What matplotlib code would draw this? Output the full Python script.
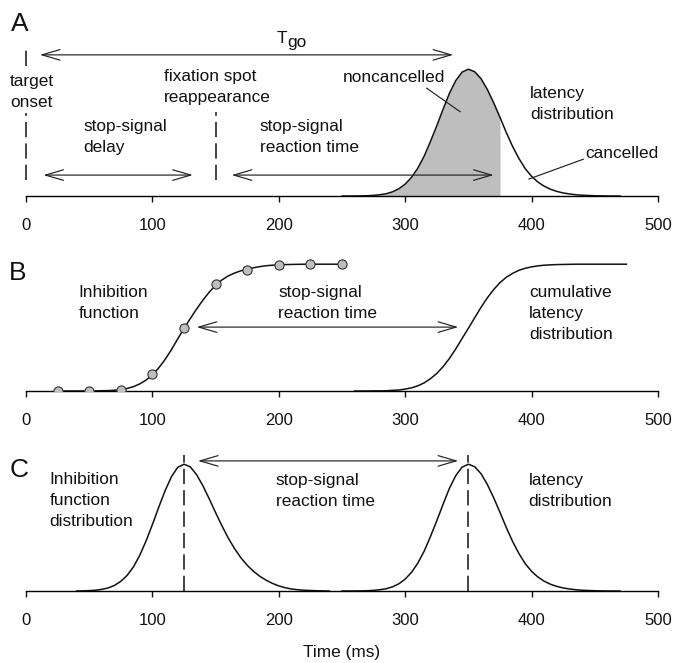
import numpy as np
import matplotlib
matplotlib.use("Agg")
import matplotlib.pyplot as plt

plt.rcParams["font.family"] = ["Liberation Sans", "DejaVu Sans"]

# ── values ───────────────────────────────────────────────────────────────
TICKS = [0, 100, 200, 300, 400, 500]

# go-process latency density (peak normalised to 1)
LAT_MS = [250, 255, 260, 265, 270, 275, 280, 285, 290, 295,
          300, 305, 310, 315, 320, 325, 330, 335, 340, 345,
          350, 355, 360, 365, 370, 375, 380, 385, 390, 395,
          400, 405, 410, 415, 420, 425, 430, 435, 440, 445,
          450, 455, 460, 465, 470]
LAT_DENS = [0.000, 0.000, 0.000, 0.001, 0.002, 0.005, 0.010, 0.018, 0.033, 0.057,
            0.094, 0.147, 0.220, 0.314, 0.430, 0.554, 0.685, 0.810, 0.910, 0.977,
            1.000, 0.980, 0.925, 0.840, 0.735, 0.620, 0.500, 0.390, 0.295, 0.215,
            0.155, 0.110, 0.077, 0.053, 0.036, 0.024, 0.016, 0.010, 0.006, 0.004,
            0.002, 0.001, 0.000, 0.000, 0.000]

# cumulative latency distribution
CUM_MS = [260, 265, 270, 275, 280, 285, 290, 295, 300, 305,
          310, 315, 320, 325, 330, 335, 340, 345, 350, 355,
          360, 365, 370, 375, 380, 385, 390, 395, 400, 405,
          410, 415, 420, 425, 430, 435, 440, 445, 450, 455,
          460, 465, 470, 475]
CUM_P = [0.000, 0.000, 0.000, 0.001, 0.001, 0.002, 0.005, 0.008, 0.015, 0.025,
         0.041, 0.064, 0.097, 0.139, 0.192, 0.257, 0.332, 0.414, 0.495, 0.578,
         0.660, 0.735, 0.800, 0.855, 0.897, 0.928, 0.952, 0.968, 0.979, 0.987,
         0.992, 0.995, 0.997, 0.998, 0.999, 1.000, 1.000, 1.000, 1.000, 1.000,
         1.000, 1.000, 1.000, 1.000]

# inhibition function: observed points + fitted curve
INH_PT_MS = [25, 50, 75, 100, 125, 150, 175, 200, 225, 250]
INH_PT_P = [0.0, 0.0, 0.008, 0.133, 0.496, 0.84, 0.955, 0.995, 1.0, 1.0]
INH_MS = [25, 30, 35, 40, 45, 50, 55, 60, 65, 70,
          75, 80, 85, 90, 95, 100, 105, 110, 115, 120,
          125, 130, 135, 140, 145, 150, 155, 160, 165, 170,
          175, 180, 185, 190, 195, 200, 205, 210, 215, 220,
          225, 230, 235, 240, 245, 250]
INH_P = [0.000, 0.000, 0.000, 0.000, 0.000, 0.000, 0.001, 0.002, 0.003, 0.006,
         0.012, 0.020, 0.034, 0.056, 0.086, 0.128, 0.182, 0.248, 0.325, 0.410,
         0.493, 0.572, 0.647, 0.717, 0.780, 0.833, 0.876, 0.908, 0.930, 0.948,
         0.961, 0.972, 0.981, 0.988, 0.992, 0.995, 0.997, 0.998, 0.999, 1.000,
         1.000, 1.000, 1.000, 1.000, 1.000, 1.000]

# inhibition function distribution (derivative of the above, peak = 1)
IDIST_MS = [40, 45, 50, 55, 60, 65, 70, 75, 80, 85,
            90, 95, 100, 105, 110, 115, 120, 125, 130, 135,
            140, 145, 150, 155, 160, 165, 170, 175, 180, 185,
            190, 195, 200, 205, 210, 215, 220, 225, 230, 235, 240]
IDIST = [0.000, 0.001, 0.003, 0.006, 0.013, 0.024, 0.044, 0.076, 0.123, 0.190,
         0.282, 0.395, 0.524, 0.660, 0.790, 0.900, 0.975, 1.000, 0.979, 0.917,
         0.829, 0.726, 0.618, 0.514, 0.418, 0.334, 0.262, 0.203, 0.155, 0.116,
         0.085, 0.060, 0.040, 0.026, 0.016, 0.010, 0.006, 0.004, 0.002, 0.001, 0.000]

SSD = 150          # fixation spot reappearance
SHADE_END = 375    # SSD + SSRT: responses before this are noncancelled
SSRT_MEAN = 125    # mean of inhibition distribution
GO_MEAN = 350      # mean of latency distribution

# ── layout (pixels) ─────────────────────────────────────────────────────
W, H = 675, 663
X0, PPM, UNIT = 26.0, 1.264, 126.8
XMIN, XMAX = -20, 510
FS, FS_TICK = 12.4, 12

fig = plt.figure(figsize=(W / 100, H / 100), dpi=100)


def make_axes(top_px, bottom_px):
    left = X0 + XMIN * PPM
    width = (XMAX - XMIN) * PPM
    ax = fig.add_axes([left / W, 1 - bottom_px / H, width / W, (bottom_px - top_px) / H])
    ax.set_xlim(XMIN, XMAX)
    ax.set_ylim(0, (bottom_px - top_px) / UNIT)
    ax.patch.set_visible(False)
    for s in ("top", "right", "left"):
        ax.spines[s].set_visible(False)
    ax.spines["bottom"].set_bounds(0, 500)
    ax.spines["bottom"].set_linewidth(1.0)
    ax.set_yticks([])
    ax.set_xticks(TICKS)
    ax.tick_params(axis="x", direction="out", length=4, width=1.0, pad=11.5,
                   labelsize=FS_TICK, colors="#111111")
    return ax


def arrow(ax, x1, x2, y):
    ax.annotate("", xy=(x2, y), xytext=(x1, y),
                arrowprops=dict(arrowstyle="<->,head_length=1.3,head_width=0.38",
                                shrinkA=0, shrinkB=0, lw=0.85, color="#222222"))


def label(ax, x, y, s, **kw):
    ax.text(x, y, s, fontsize=FS, ha="left", va="center", linespacing=1.5,
            color="#111111", **kw)


DASH = dict(colors="#111111", lw=1.1, linestyles=[(0, (10, 4))])
CURVE = dict(color="#111111", lw=1.1)

# ── A: race model, latency distribution ─────────────────────────────────
axA = make_axes(0, 196)
lat_ms, lat = np.array(LAT_MS), np.array(LAT_DENS)
m = lat_ms <= SHADE_END
axA.fill_between(lat_ms[m], 0, lat[m], color="#bebebe", lw=0)
axA.plot(lat_ms, lat, **CURVE)

axA.vlines(0, 1.026, 1.152, **DASH)
axA.vlines(0, 0.126, 0.655, **DASH)
axA.vlines(SSD, 0.126, 0.663, **DASH)

arrow(axA, 11, 338, 1.113)
arrow(axA, 13.7, 132, 0.165)
arrow(axA, 162.7, 370, 0.165)

axA.text(206.5, 1.208, "T", fontsize=FS, ha="right", va="baseline", color="#111111")
axA.annotate("go", xy=(206.5, 1.208), xytext=(0.5, -3), textcoords="offset points",
             fontsize=FS, ha="left", va="baseline", color="#111111")
label(axA, -12.6, 0.817, "target\nonset")
label(axA, 109.2, 0.856, "fixation spot\nreappearance")
label(axA, 45.3, 0.462, "stop-signal\ndelay")
label(axA, 185.1, 0.462, "stop-signal\nreaction time")
label(axA, 250.8, 0.931, "noncancelled")
label(axA, 398.7, 0.726, "latency\ndistribution")
label(axA, 442.2, 0.339, "cancelled")
axA.plot([317, 343.4], [0.85, 0.665], color="#222222", lw=0.85)
axA.plot([440.9, 397.9], [0.29, 0.134], color="#222222", lw=0.85)

# ── B: inhibition function and cumulative latency ───────────────────────
axB = make_axes(200, 391)
axB.plot(INH_MS, INH_P, **CURVE)
axB.plot(INH_PT_MS, INH_PT_P, ls="none", marker="o", ms=6.6, mfc="#bebebe",
         mec="#333333", mew=0.8, zorder=3)
axB.plot(CUM_MS, CUM_P, **CURVE)
arrow(axB, 135, 342, 0.504)
label(axB, 41.4, 0.697, "Inhibition\nfunction")
label(axB, 199.4, 0.697, "stop-signal\nreaction time")
label(axB, 398.2, 0.609, "cumulative\nlatency\ndistribution")

# ── C: inhibition function distribution vs latency distribution ────────
axC = make_axes(400, 591)
axC.plot(IDIST_MS, IDIST, **CURVE)
axC.plot(LAT_MS, LAT_DENS, **CURVE)
axC.vlines([SSRT_MEAN, GO_MEAN], 0, 1.073, **DASH)
arrow(axC, 136, 342, 1.026)
label(axC, 18.6, 0.710, "Inhibition\nfunction\ndistribution")
label(axC, 197.4, 0.785, "stop-signal\nreaction time")
label(axC, 397.6, 0.785, "latency\ndistribution")

fig.text((X0 + 250 * PPM) / W, 1 - 652 / H, "Time (ms)", fontsize=FS,
         ha="center", va="center", color="#111111")
for letter, (px, py) in {"A": (20, 24), "B": (18, 273), "C": (19, 470)}.items():
    fig.text(px / W, 1 - py / H, letter, fontsize=19, ha="center", va="center",
             color="#111111")

fig.savefig("out.png", dpi=100)
